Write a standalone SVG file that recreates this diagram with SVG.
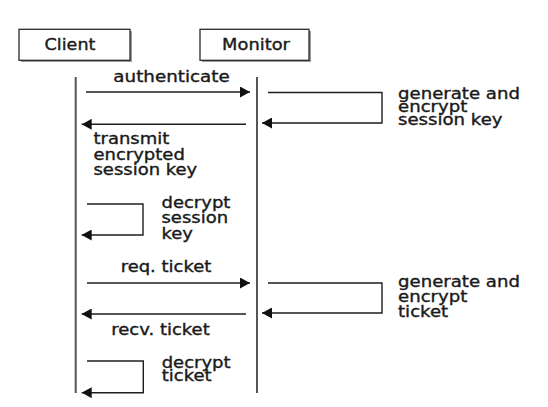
<svg xmlns="http://www.w3.org/2000/svg" width="548" height="407" viewBox="0 0 548 407">
<defs>
<style>
.lbl{font-family:"DejaVu Sans","Liberation Sans",sans-serif;font-size:15px;fill:#1a1a1a;stroke:#1a1a1a;stroke-width:0.35px;}
.mid{text-anchor:middle;}
.box{fill:#ffffff;stroke:#2a2a2a;stroke-width:1.3;}
.shadow{fill:#9a9a9a;}
.life{stroke:#555555;stroke-width:2;fill:none;}
.msg{stroke:#1e1e1e;stroke-width:1.4;fill:none;}
</style>
<marker id="ah" viewBox="0 0 10 11" refX="10" refY="5.5" markerWidth="10" markerHeight="11" markerUnits="userSpaceOnUse" orient="auto">
<path d="M0,0 L10,5.5 L0,11 Z" fill="#111111"/>
</marker>
</defs>
<rect width="548" height="407" fill="#ffffff"/>
<g id="client">
<rect class="shadow" x="21" y="31" width="111" height="31"/>
<rect class="box" x="19" y="29.3" width="111" height="31"/>
<text class="lbl mid" transform="translate(70,50.3) scale(1.17,1)">Client</text>
<line class="life" x1="75.7" y1="77" x2="75.7" y2="393"/>
</g>
<g id="monitor">
<rect class="shadow" x="202" y="31" width="109" height="31"/>
<rect class="box" x="200" y="29.3" width="109" height="31"/>
<text class="lbl mid" transform="translate(256,50.3) scale(1.19,1)">Monitor</text>
<line class="life" x1="257" y1="77" x2="257" y2="393"/>
</g>
<g id="connectors">
<path class="msg" d="M86,92 H250" marker-end="url(#ah)"/>
<path class="msg" d="M268,92.5 H382 V123 H262" marker-end="url(#ah)"/>
<path class="msg" d="M246,124.3 H81.7" marker-end="url(#ah)"/>
<path class="msg" d="M87,204 H143 V235 H81.7" marker-end="url(#ah)"/>
<path class="msg" d="M87,283 H250" marker-end="url(#ah)"/>
<path class="msg" d="M268,283 H382 V313 H262" marker-end="url(#ah)"/>
<path class="msg" d="M246,314 H81.7" marker-end="url(#ah)"/>
<path class="msg" d="M87,361 H143.3 V392.7 H81.7" marker-end="url(#ah)"/>
</g>
<g id="labels">
<text class="lbl mid" transform="translate(171.5,82) scale(1.22,1)">authenticate</text>
<text class="lbl" transform="translate(398,98.7) scale(1.21,1)"><tspan x="0" y="0">generate and</tspan><tspan x="0" y="12.8">encrypt</tspan><tspan x="0" y="26">session key</tspan></text>
<text class="lbl" transform="translate(93.5,144.3) scale(1.2,1)"><tspan x="0" y="0">transmit</tspan><tspan x="0" y="15.5">encrypted</tspan><tspan x="0" y="30.8">session key</tspan></text>
<text class="lbl" transform="translate(161.5,208.3) scale(1.2,1)"><tspan x="0" y="0">decrypt</tspan><tspan x="0" y="15">session</tspan><tspan x="0" y="30.5">key</tspan></text>
<text class="lbl mid" transform="translate(166,271.7) scale(1.2,1)">req. ticket</text>
<text class="lbl" transform="translate(398,287.3) scale(1.21,1)"><tspan x="0" y="0">generate and</tspan><tspan x="0" y="15">encrypt</tspan><tspan x="0" y="30">ticket</tspan></text>
<text class="lbl mid" transform="translate(160.5,335) scale(1.2,1)">recv. ticket</text>
<text class="lbl" transform="translate(161.7,367.5) scale(1.2,1)"><tspan x="0" y="0">decrypt</tspan><tspan x="0" y="13.5">ticket</tspan></text>
</g>
</svg>
